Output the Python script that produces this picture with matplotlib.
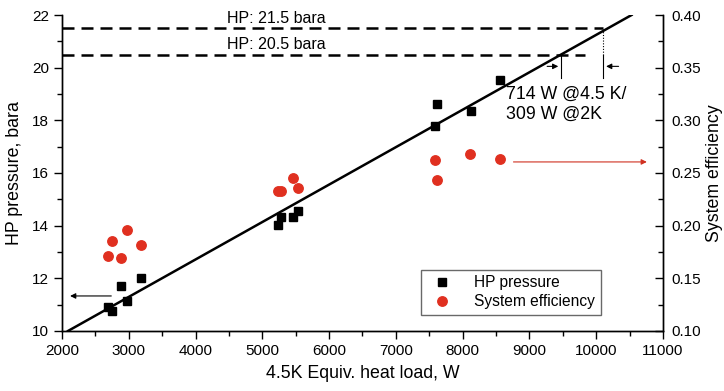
import numpy as np
import matplotlib
matplotlib.use("Agg")
import matplotlib.pyplot as plt
from matplotlib.ticker import MultipleLocator

plt.rcParams['font.family'] = ['Liberation Sans', 'DejaVu Sans']

# HP pressure points
load_hp = [2684, 2753, 2883, 2968, 3183, 5234, 5273, 5463, 5533, 7584, 7618, 8118, 8557]
hp_pressure = [10.92, 10.77, 11.72, 11.14, 12.0, 14.01, 14.34, 14.34, 14.56, 17.78, 18.61, 18.37, 19.52]

# system efficiency points
load_eff = [2684, 2753, 2883, 2968, 3183, 5234, 5283, 5463, 5533, 7584, 7609, 8108, 8567]
efficiency = [0.171, 0.185, 0.169, 0.196, 0.182, 0.233, 0.233, 0.245, 0.236, 0.262, 0.243, 0.268, 0.263]

# linear fit of pressure vs load (end points)
fit_x = [2090, 10530]
fit_p = [10.0, 22.0]

hp_limits = [21.5, 20.5]
hp_limit_end = [10107, 9830]
hp_labels = ['HP: 21.5 bara', 'HP: 20.5 bara']
load_at_limit = [9474, 10107]

fig = plt.figure(figsize=(7.24, 3.91), dpi=100)
ax = fig.add_axes([0.0856, 0.1535, 0.8301, 0.8081])
ax2 = ax.twinx()

ax.plot(fit_x, fit_p, color='black', lw=1.8, zorder=2)
ax.plot(load_hp, hp_pressure, 's', color='black', ms=6, label='HP pressure', zorder=3)
ax2.plot(load_eff, efficiency, 'o', color='#e03020', mec='#e03020', ms=6.8, label='System efficiency')

for y, xe, lab in zip(hp_limits, hp_limit_end, hp_labels):
    ax.plot([2000, xe], [y, y], color='black', lw=1.8, dashes=(4.8, 2.8))
    ax.text(4470, y + 0.08, lab, ha='left', va='bottom', fontsize=11.5)

# markers of the load at the two HP limits
ax.plot([load_at_limit[0]] * 2, [19.6, 20.45], color='black', lw=0.8)
ax.plot([load_at_limit[1]] * 2, [19.6, 20.5], color='black', lw=0.8)
ax.plot([load_at_limit[1]] * 2, [20.5, 21.45], color='black', lw=0.8, ls=(0, (1, 1.5)))
ax.annotate('', xy=(load_at_limit[0], 20.05), xytext=(load_at_limit[0] - 250, 20.05),
            arrowprops=dict(arrowstyle='-|>', color='black', lw=0.8, mutation_scale=8))
ax.annotate('', xy=(load_at_limit[1], 20.05), xytext=(load_at_limit[1] + 270, 20.05),
            arrowprops=dict(arrowstyle='-|>', color='black', lw=0.8, mutation_scale=8))
ax.text(8650, 19.3, '714 W @4.5 K/\n309 W @2K', ha='left', va='top', fontsize=12.8,
        linespacing=1.2)

# axis pointing arrows
ax.annotate('', xy=(2080, 11.33), xytext=(2780, 11.33),
            arrowprops=dict(arrowstyle='-|>', color='black', lw=0.8, mutation_scale=8))
ax.annotate('', xy=(10800, 16.42), xytext=(8720, 16.42),
            arrowprops=dict(arrowstyle='-|>', color='#d03020', lw=0.8, mutation_scale=8))

ax.set_xlim(2000, 11000)
ax.set_ylim(10, 22)
ax2.set_ylim(0.10, 0.40)
ax.xaxis.set_major_locator(MultipleLocator(1000))
ax.xaxis.set_minor_locator(MultipleLocator(500))
ax.yaxis.set_major_locator(MultipleLocator(2))
ax.yaxis.set_minor_locator(MultipleLocator(1))
ax2.yaxis.set_major_locator(MultipleLocator(0.05))
ax2.yaxis.set_minor_locator(MultipleLocator(0.025))
ax2.yaxis.set_major_formatter(plt.FormatStrFormatter('%.2f'))

ax.spines['top'].set_visible(False)
ax2.spines['top'].set_visible(False)
for a in (ax, ax2):
    for s in a.spines.values():
        s.set_linewidth(1.0)
ax.tick_params(which='major', direction='out', length=6, width=1.0, labelsize=11)
ax.tick_params(which='minor', direction='out', length=3.5, width=1.0)
ax2.tick_params(which='major', direction='in', length=6, width=1.0, labelsize=11, pad=6)
ax2.tick_params(which='minor', direction='in', length=3.5, width=1.0)

ax.set_xlabel('4.5K Equiv. heat load, W', fontsize=12.8, labelpad=5)
ax.set_ylabel('HP pressure, bara', fontsize=12.8, labelpad=6)
ax2.set_ylabel('System efficiency', fontsize=12.8, labelpad=4)

h1, l1 = ax.get_legend_handles_labels()
h2, l2 = ax2.get_legend_handles_labels()
leg = ax2.legend(h1 + h2, l1 + l2, loc='upper left', bbox_to_anchor=(0.597, 0.193),
                 fontsize=11.2, frameon=True, fancybox=False, edgecolor='#444444',
                 borderpad=0.35, labelspacing=0.25, handletextpad=1.1, borderaxespad=0)
leg.get_frame().set_linewidth(1.0)

fig.savefig('out.png', dpi=100)
